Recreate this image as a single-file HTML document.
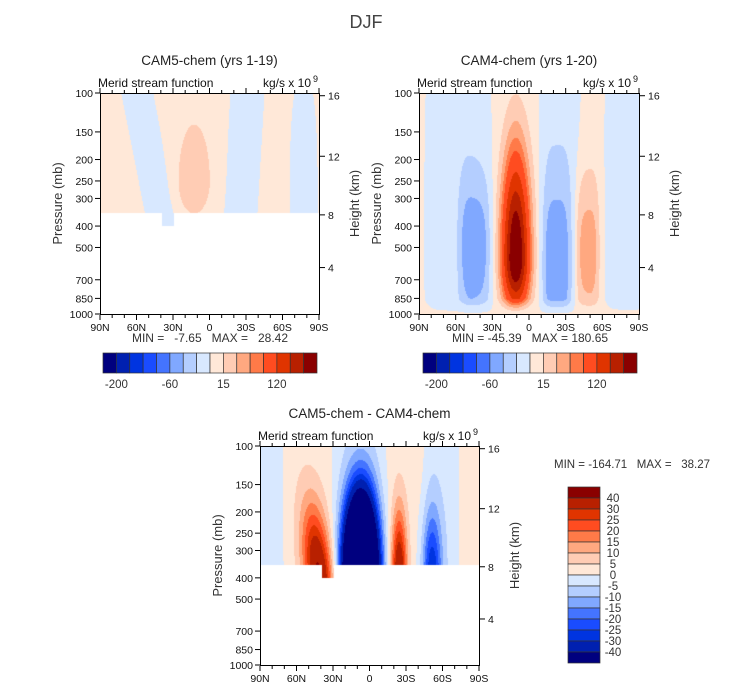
<!DOCTYPE html>
<html><head><meta charset="utf-8">
<style>
html,body{margin:0;padding:0;background:#fff;}
#root{position:relative;width:733px;height:689px;overflow:hidden;font-family:"Liberation Sans",Arial,sans-serif;}
canvas{position:absolute;}
svg{position:absolute;left:0;top:0;}
text{white-space:pre;}
</style></head>
<body>
<div id="root">
<canvas id="c1" style="left:100px;top:93px" width="219" height="221"></canvas>
<canvas id="c2" style="left:419px;top:93px" width="220" height="221"></canvas>
<canvas id="c3" style="left:260px;top:446px" width="219" height="219"></canvas>
<svg id="ov" width="733" height="689"></svg>
</div>
<script>
// ---- data ----
const colors = ["#00007f","#0020b0","#0034e0","#1a4cff","#4474ff","#80a8ff","#b4ceff","#d8e8ff","#ffe8d8","#ffccb4","#ffa880","#ff7a48","#ff4c20","#e03400","#b82000","#8a0000"];
const levelsMain = [-200,-150,-100,-80,-60,-40,-20,0,15,30,45,60,90,120,150];
const levelsDiff = [-40,-30,-25,-20,-15,-10,-5,0,5,10,15,20,25,30,40];
const mainLabels = ["-200","-60","15","120"];
const mainLabelIdx = [0,4,8,12];
const diffLabels = ["40","30","25","20","15","10","5","0","-5","-10","-15","-20","-25","-30","-40"];
const presTicks = [100,150,200,250,300,400,500,700,850,1000];
const latTicks = [90,60,30,0,-30,-60,-90];
const latTickLabels = ["90N","60N","30N","0","30S","60S","90S"];
const heightTicks = [16,12,8,4];

// CAM5 cells: amplitude (kg/s x1e9), center lat, center pressure (mb), half-width (deg), up/down (decades), tilt (deg/decade)
const p1Amp  = [-10, -10, -10, 25];
const p1Lat  = [50.4, -27.9, -77.4, 12.6];
const p1Pres = [178, 200, 282, 251];
const p1Wid  = [12.6, 13.5, 11, 15];
const p1Up   = [3, 3, 0.45, 0.3];
const p1Down = [3, 3, 2, 0.17];
const p1Tilt = [-36, 10.8, 0, 0];
const p1ExpU = [4, 4, 4, 2];
const p1Bg = 3;
const p1Min = "-7.65", p1Max = "28.42";

// CAM4 cells
const p2Amp  = [185, -46, -15, -46, -15, 36, -12];
const p2Lat  = [10.8, 44.1, 57.6, -22.5, -25.2, -47.7, -81];
const p2Pres = [562, 500, 398, 600, 316, 525, 316];
const p2Wid  = [10.8, 12.8, 25, 11.7, 16.2, 10, 18];
const p2Up   = [0.45, 0.33, 1.2, 0.42, 1.2, 0.36, 1.5];
const p2Down = [0.22, 0.35, 1.2, 0.4, 1.2, 0.35, 1.5];
const p2Tilt = [0, 0, 0, 0, 0, 0, 0];
const p2ExpU = [2, 4, 4, 4, 4, 4, 4];
const p2Bg = 3;
const p2Min = "-45.39", p2Max = "180.65";

// Difference cells
const p3Amp  = [40, -170, 38, -28, -5, -5, -5];
const p3Lat  = [41.4, 7.2, -24.3, -51.3, 82.8, 9, -59.4];
const p3Pres = [398, 398, 398, 398, 316, 200, 200];
const p3Wid  = [11.7, 12.6, 6.3, 8.1, 12.6, 21.6, 14.4];
const p3Up   = [0.32, 0.33, 0.3, 0.3, 2, 2, 2];
const p3Down = [0.3, 0.3, 0.3, 0.3, 2, 2, 2];
const p3Tilt = [-18, 0, 0, 0, 0, 0, 0];
const p3ExpU = [2, 2, 2, 2, 4, 4, 4];
const p3Bg = 2;
const p3Min = "-164.71", p3Max = "38.27";

// ---- rendering ----
function fieldAt(lat, p, D, taper){
  const v = Math.log10(p/100);
  let s = 0;
  for(let k=0;k<D.amp.length;k++){
    const vc = Math.log10(D.pres[k]/100);
    const dv = v - vc;
    const lc = D.lat[k] + D.tilt[k]*dv;
    const du = Math.abs((lat-lc)/D.wid[k]);
    const sv = dv<0 ? D.up[k] : D.down[k];
    s += D.amp[k]*Math.exp(-Math.pow(du,D.expU[k]) - Math.pow(dv/sv,2));
  }
  if(taper) s *= Math.min(1,(1-v)/0.07);
  return D.bg + s;
}
function hex(c){return [parseInt(c.substr(1,2),16),parseInt(c.substr(3,2),16),parseInt(c.substr(5,2),16)];}
const rgb = colors.map(hex);
function levelIndex(val, lv){let i=0;while(i<lv.length && val>lv[i]) i++;return i;}
function drawField(id, D, levels, taper, masked){
  const cv=document.getElementById(id), ctx=cv.getContext('2d');
  const w=cv.width,h=cv.height, img=ctx.createImageData(w,h);
  const vMask=Math.log10(3.5), vNotch=Math.log10(4);
  for(let y=0;y<h;y++){
    const v=(y+0.5)/h, p=100*Math.pow(10,v);
    for(let x=0;x<w;x++){
      const u=(x+0.5)/w, lat=90-180*u;
      const o=(y*w+x)*4;
      let white=false;
      if(masked && v>vMask){ white = !(u>0.283 && u<0.336 && v<vNotch); }
      if(white){img.data[o]=img.data[o+1]=img.data[o+2]=255;img.data[o+3]=255;continue;}
      const c=rgb[levelIndex(fieldAt(lat,p,D,taper),levels)];
      img.data[o]=c[0];img.data[o+1]=c[1];img.data[o+2]=c[2];img.data[o+3]=255;
    }
  }
  ctx.putImageData(img,0,0);
}
drawField('c1',{amp:p1Amp,lat:p1Lat,pres:p1Pres,wid:p1Wid,up:p1Up,down:p1Down,tilt:p1Tilt,expU:p1ExpU,bg:p1Bg},levelsMain,false,true);
drawField('c2',{amp:p2Amp,lat:p2Lat,pres:p2Pres,wid:p2Wid,up:p2Up,down:p2Down,tilt:p2Tilt,expU:p2ExpU,bg:p2Bg},levelsMain,true,false);
drawField('c3',{amp:p3Amp,lat:p3Lat,pres:p3Pres,wid:p3Wid,up:p3Up,down:p3Down,tilt:p3Tilt,expU:p3ExpU,bg:p3Bg},levelsDiff,false,true);

const NS="http://www.w3.org/2000/svg", ov=document.getElementById('ov');
function el(tag,attrs,parent){const e=document.createElementNS(NS,tag);for(const k in attrs)e.setAttribute(k,attrs[k]);(parent||ov).appendChild(e);return e;}
function txt(s,x,y,size,anchor,parent,name,fill){
  const t=el('text',{x:x,y:y,'font-size':size,'text-anchor':anchor||'middle',fill:fill||'#111','font-family':'Liberation Sans, Arial, sans-serif'},parent);
  t.textContent=s;
  
  
  return t;
}
function stdP(zkm){const z=zkm*1000; if(z<=11000) return 1013.25*Math.pow(1-2.25577e-5*z,5.25588); return 226.32*Math.exp(-(z-11000)/6341.6);}

function axes(P){
  const g=el('g',{});
  
  
  const yP=p=>P.y+Math.log10(p/100)*P.h;
  const xL=l=>P.x+(90-l)/180*P.w;
  el('rect',{x:P.x+0.5,y:P.y+0.5,width:P.w,height:P.h,fill:'none',stroke:'#000','stroke-width':1},g);
  presTicks.forEach(p=>{
    const y=yP(p);
    el('line',{x1:P.x-5,y1:y,x2:P.x,y2:y,stroke:'#000'},g);
    txt(String(p),P.x-7,y+4,10.5,'end',g,'pressure-tick-label');
  });
  for(let l=90;l>=-90;l-=10){
    const x=xL(l), major=(l%30===0);
    el('line',{x1:x,y1:P.y+P.h+1,x2:x,y2:P.y+P.h+(major?6:4),stroke:'#000'},g);
    el('line',{x1:x,y1:P.y,x2:x,y2:P.y-(major?5:3),stroke:'#000'},g);
  }
  latTicks.forEach((l,i)=>txt(latTickLabels[i],xL(l),P.y+P.h+17,10.5,'middle',g,'latitude-tick-label'));
  heightTicks.forEach(z=>{
    const y=yP(stdP(z));
    el('line',{x1:P.x+P.w+1,y1:y,x2:P.x+P.w+6,y2:y,stroke:'#000'},g);
    txt(String(z),P.x+P.w+9,y+4,10.5,'start',g,'height-tick-label');
  });
  const ly=P.y+P.h/2;
  const t1=txt('Pressure (mb)',0,0,13,'middle',g,'y-axis-title','#333');
  t1.setAttribute('transform','translate('+(P.x-38)+','+ly+') rotate(-90)');
  const t2=txt('Height (km)',0,0,13,'middle',g,'y2-axis-title','#333');
  t2.setAttribute('transform','translate('+(P.x+P.w+40)+','+ly+') rotate(-90)');
  txt('Merid stream function',P.x-2,P.y-6,12,'start',g,'subtitle-left');
  txt('kg/s x 10',P.x+P.w-8,P.y-6,12,'end',g,'subtitle-units');
  txt('9',P.x+P.w-1,P.y-11,9,'end',g,'units-exponent');
  txt(P.title,P.x+P.w/2,P.y-28,13.5,'middle',g,'panel-title','#222');
}
axes({name:'cam5',x:100,y:93,w:219,h:221,title:'CAM5-chem (yrs 1-19)'});
axes({name:'cam4',x:419,y:93,w:220,h:221,title:'CAM4-chem (yrs 1-20)'});
axes({name:'diff',x:260,y:446,w:219,h:219,title:'CAM5-chem - CAM4-chem'});

txt('DJF',366,28,18,'middle',ov,'figure-title','#444');
txt('MIN =   '+p1Min+'   MAX =   '+p1Max,210,342,12,'middle',ov,'cam5-min-max','#333');
txt('MIN = '+p2Min+'   MAX = '+p2Max,530,342,12,'middle',ov,'cam4-min-max','#333');
txt('MIN = '+p3Min+'   MAX =   '+p3Max,632,468,11.5,'middle',ov,'diff-min-max','#333');

function hbar(x0,name){
  const g=el('g',{});
  
  
  const bw=214/16;
  colors.forEach((c,i)=>{
    const r=el('rect',{x:x0+i*bw,y:353,width:bw,height:20,fill:c,stroke:'#333','stroke-width':0.7},g);
    
    
  });
  mainLabels.forEach((s,k)=>txt(s,x0+(mainLabelIdx[k]+1)*bw,388,11.5,'middle',g,'colorbar-label','#333'));
}
hbar(103,'cam5-colorbar');
hbar(423,'cam4-colorbar');

(function(){
  const g=el('g',{});
  
  
  const bh=176/16;
  for(let i=0;i<16;i++){
    const r=el('rect',{x:568,y:487+i*bh,width:32,height:bh,fill:colors[15-i],stroke:'#333','stroke-width':0.7},g);
    
    
  }
  diffLabels.forEach((s,i)=>txt(s,613,487+(i+1)*bh+4,11.5,'middle',g,'colorbar-label','#333'));
})();
</script>
</body></html>
